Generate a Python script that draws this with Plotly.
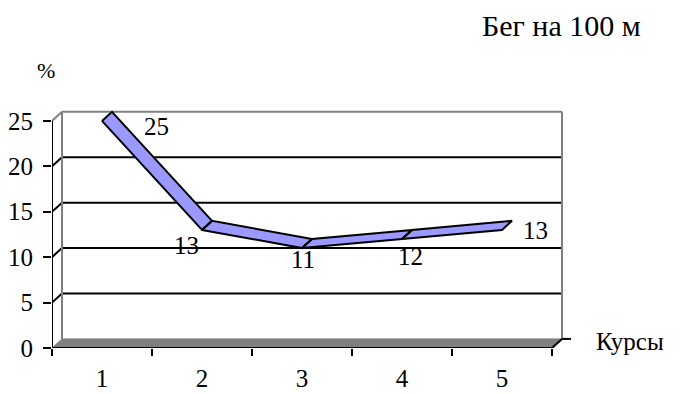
import plotly.graph_objects as go

# Data
courses = [1, 2, 3, 4, 5]
course_labels = ["1", "2", "3", "4", "5"]
percent = [25, 13, 11, 12, 13]
y_ticks = [0, 5, 10, 15, 20, 25]

# Pseudo-3D depth offset (back plane relative to front plane, data units)
DX, DY = 0.1, 1.0
X0, X1 = 0.5, 5.5
YMAX = 25

FONT = "Liberation Serif"
GRAY = "#808080"
RIBBON = "#9999FF"

fig = go.Figure()

# Floor of the 3D box
fig.add_trace(go.Scatter(
    x=[X0, X1, X1 + DX, X0 + DX, X0], y=[0, 0, DY, DY, 0],
    mode="lines", fill="toself", fillcolor=GRAY,
    line=dict(color=GRAY, width=1), hoverinfo="skip", showlegend=False))

# Ribbon: one parallelogram per segment, front edge at the values, back edge offset
rx, ry = [], []
for i in range(len(courses) - 1):
    xa, xb = courses[i], courses[i + 1]
    ya, yb = percent[i], percent[i + 1]
    rx += [xa, xb, xb + DX, xa + DX, xa, None]
    ry += [ya, yb, yb + DY, ya + DY, ya, None]

shapes = []
# Back-wall gridlines and their diagonals on the side wall
for v in y_ticks[1:-1]:
    shapes.append(dict(type="line", xref="x", yref="y", x0=X0 + DX, x1=X1 + DX,
                       y0=v + DY, y1=v + DY, line=dict(color="black", width=2), layer="below"))
    shapes.append(dict(type="line", xref="x", yref="y", x0=X0, x1=X0 + DX,
                       y0=v, y1=v + DY, line=dict(color="black", width=2), layer="below"))
# Wall edges
for (xa, ya, xb, yb) in [
    (X0 + DX, DY, X0 + DX, YMAX + DY),
    (X1 + DX, DY, X1 + DX, YMAX + DY),
    (X0 + DX, YMAX + DY, X1 + DX, YMAX + DY),
    (X0, YMAX, X0 + DX, YMAX + DY),
]:
    shapes.append(dict(type="line", xref="x", yref="y", x0=xa, y0=ya, x1=xb, y1=yb,
                       line=dict(color=GRAY, width=2), layer="below"))
# Front axes lines
shapes.append(dict(type="line", xref="x", yref="y", x0=X0, y0=0, x1=X0, y1=YMAX,
                   line=dict(color="black", width=2)))
shapes.append(dict(type="line", xref="x", yref="y", x0=X0, y0=0, x1=X1, y1=0,
                   line=dict(color="black", width=2)))
shapes.append(dict(type="line", xref="x", yref="y", x0=X1, y0=0, x1=X1 + DX, y1=DY,
                   line=dict(color="black", width=2)))
shapes.append(dict(type="line", xref="x", yref="y", x0=X1 + DX, y0=DY, x1=X1 + 0.19, y1=DY,
                   line=dict(color="black", width=2)))

fig.add_trace(go.Scatter(
    x=rx, y=ry, mode="lines", fill="toself", fillcolor=RIBBON,
    line=dict(color="black", width=2), hoverinfo="skip", showlegend=False))

# Value labels
label_shift = [(54, -6), (-16, -16), (1, -11), (8, -18), (33, -1)]
annotations = []
for xv, yv, (sx, sy) in zip(courses, percent, label_shift):
    annotations.append(dict(x=xv, y=yv, xref="x", yref="y", text=str(yv),
                            showarrow=False, xshift=sx, yshift=sy,
                            font=dict(family=FONT, size=25, color="black")))

annotations += [
    dict(text="Бег на 100 м", xref="paper", yref="paper", x=0, y=1,
         xanchor="center", yanchor="middle", showarrow=False,
         xshift=509, yshift=85,
         font=dict(family=FONT, size=30, color="black")),
    dict(text="%", xref="paper", yref="paper", x=0, y=1, xanchor="center",
         yanchor="middle", showarrow=False, xshift=-6, yshift=40,
         font=dict(family=FONT, size=22, color="black")),
    dict(text="Курсы", x=X1 + DX, y=DY, xref="x", yref="y", xanchor="left",
         yanchor="middle", showarrow=False, xshift=32, yshift=-3,
         font=dict(family=FONT, size=25, color="black")),
]

fig.update_layout(
    width=683, height=394,
    margin=dict(l=52, r=106, t=110, b=46),
    paper_bgcolor="white", plot_bgcolor="white",
    font=dict(family=FONT),
    shapes=shapes, annotations=annotations,
    xaxis=dict(range=[X0, X1 + 0.25], showgrid=False, zeroline=False, showline=False,
               automargin=False,
               tickvals=[X0 + k for k in range(len(courses) + 1)],
               ticktext=[""] * (len(courses) + 1),
               ticks="outside", ticklen=7, tickwidth=2, tickcolor="black"),
    xaxis2=dict(range=[X0, X1 + 0.25], overlaying="x", side="bottom",
                showgrid=False, zeroline=False, showline=False, automargin=False,
                tickvals=courses, ticktext=course_labels, ticks="",
                ticklabelstandoff=13,
                tickfont=dict(family=FONT, size=25, color="black")),
    yaxis=dict(range=[0, YMAX + 1.2], showgrid=False, zeroline=False, showline=False,
               automargin=False, ticklabelstandoff=5,
               tickvals=y_ticks, ticks="outside", ticklen=8, tickwidth=2,
               tickcolor="black", tickfont=dict(family=FONT, size=25, color="black")),
)
# Invisible trace so the second x axis renders its labels
fig.add_trace(go.Scatter(x=[X0], y=[0], xaxis="x2", mode="markers",
                         marker=dict(opacity=0), hoverinfo="skip", showlegend=False))

fig.write_html("out.html")
